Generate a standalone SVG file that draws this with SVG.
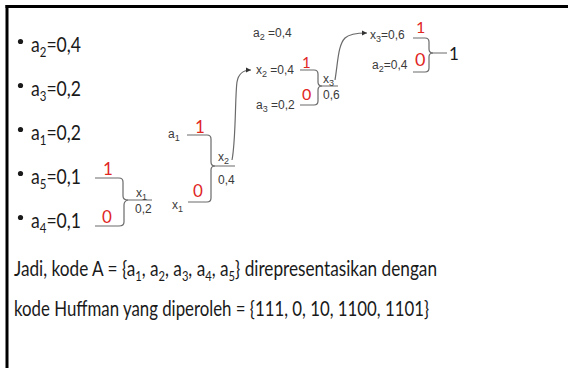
<svg xmlns="http://www.w3.org/2000/svg" width="568" height="368" viewBox="0 0 568 368">
<style>
.main{font-family:Lato,"Open Sans",sans-serif;font-size:22px;fill:#1a1a1a}
.lbl{font-family:"Liberation Sans",Arial,sans-serif;font-size:12px;fill:#3a3a3a}
.lbl .sub{font-size:9px}
.red{font-family:Lato,"Liberation Sans",sans-serif;fill:#e0261f}
.ln{fill:none;stroke:#6a6a6a;stroke-width:1.2}
.sub{font-size:0.65em}
.dot{fill:#1a1a1a}
</style>
<defs>
<marker id="ah" markerWidth="6" markerHeight="6" refX="5" refY="3" orient="auto" markerUnits="userSpaceOnUse">
<path d="M0,0.5 L5,3 L0,5.5 Z" fill="#333"/>
</marker>
</defs>
<rect width="568" height="368" fill="#fff"/>
<g id="frame" stroke="#000" stroke-width="3">
<line x1="5.5" y1="6.5" x2="568" y2="6.5"/>
<line x1="7" y1="5" x2="7" y2="368"/>
</g>
<g id="bullets" class="main">
<circle class="dot" cx="20.5" cy="41.5" r="2.6"/>
<text x="31" y="52" textLength="50" lengthAdjust="spacingAndGlyphs">a<tspan class="sub" dy="5">2</tspan><tspan dy="-5">=0,4</tspan></text>
<circle class="dot" cx="20.5" cy="85.5" r="2.6"/>
<text x="31" y="96" textLength="50" lengthAdjust="spacingAndGlyphs">a<tspan class="sub" dy="5">3</tspan><tspan dy="-5">=0,2</tspan></text>
<circle class="dot" cx="20.5" cy="129.5" r="2.6"/>
<text x="31" y="140" textLength="50" lengthAdjust="spacingAndGlyphs">a<tspan class="sub" dy="5">1</tspan><tspan dy="-5">=0,2</tspan></text>
<circle class="dot" cx="20.5" cy="173.5" r="2.6"/>
<text x="31" y="184" textLength="50" lengthAdjust="spacingAndGlyphs">a<tspan class="sub" dy="5">5</tspan><tspan dy="-5">=0,1</tspan></text>
<circle class="dot" cx="20.5" cy="217.5" r="2.6"/>
<text x="31" y="228" textLength="50" lengthAdjust="spacingAndGlyphs">a<tspan class="sub" dy="5">4</tspan><tspan dy="-5">=0,1</tspan></text>
</g>
<g id="connectors">
<path class="ln" d="M95,178 H119 Q123,178 123,182 V196 Q123,200 128,200 H152"/>
<path class="ln" d="M95,226 H119 Q124,226 124,222 V205 Q124,201 128,200"/>
<path class="ln" d="M187,135 H207 Q211,135 211,139 V162 Q211,166 215,166 H235"/>
<path class="ln" d="M188,202 H207 Q211,202 211,198 V170 Q211,166 215,166"/>
<path class="ln" d="M300,70 H314 Q318,70 318,74 V82 Q318,86 322,86 H338"/>
<path class="ln" d="M300,105 H314 Q318,105 318,101 V90 Q318,86 322,86"/>
<path class="ln" d="M413,38 H425 Q429,38 429,42 V49 Q429,53 433,53 H447"/>
<path class="ln" d="M413,72 H425 Q429,72 429,68 V57 Q429,53 433,53"/>
<path class="ln" d="M232,160 C236,140 235,95 237,82 Q239,70 251,70" marker-end="url(#ah)"/>
<path class="ln" d="M335,80 C338,62 338,45 345,38 Q350,33 367,33" marker-end="url(#ah)"/>
</g>
<g id="tree1">
<text class="red" x="103" y="175" font-size="17">1</text>
<text class="red" x="102" y="223" font-size="17">0</text>
<text class="lbl" x="136" y="197">x<tspan class="sub" dy="3">1</tspan></text>
<text class="lbl" x="135" y="213">0,2</text>
</g>
<g id="tree2">
<text class="lbl" x="168" y="138">a<tspan class="sub" dy="3">1</tspan></text>
<text class="lbl" x="172" y="209">x<tspan class="sub" dy="3">1</tspan></text>
<text class="red" x="195" y="133" font-size="17">1</text>
<text class="red" x="193" y="197" font-size="17">0</text>
<text class="lbl" x="218" y="161">x<tspan class="sub" dy="3">2</tspan></text>
<text class="lbl" x="218" y="184">0,4</text>
</g>
<g id="tree3">
<text class="lbl" x="253" y="37">a<tspan class="sub" dy="3">2</tspan><tspan dy="-3"> =0,4</tspan></text>
<text class="lbl" x="256" y="74">x<tspan class="sub" dy="3">2</tspan><tspan dy="-3"> =0,4</tspan></text>
<text class="lbl" x="256" y="109">a<tspan class="sub" dy="3">3</tspan><tspan dy="-3"> =0,2</tspan></text>
<text class="red" x="302" y="68" font-size="15">1</text>
<text class="red" x="302" y="100" font-size="16">0</text>
<text class="lbl" x="323" y="83">x<tspan class="sub" dy="3">3</tspan></text>
<text class="lbl" x="323" y="99">0,6</text>
</g>
<g id="tree4">
<text class="lbl" x="370" y="39">x<tspan class="sub" dy="3">3</tspan><tspan dy="-3">=0,6</tspan></text>
<text class="lbl" x="372" y="69">a<tspan class="sub" dy="3">2</tspan><tspan dy="-3">=0,4</tspan></text>
<text class="red" x="416" y="33" font-size="16">1</text>
<text class="red" x="415" y="66" font-size="18">0</text>
<text class="main" x="449" y="60" style="font-size:17px">1</text>
</g>
<g id="summary" class="main">
<text x="14" y="276" textLength="423" lengthAdjust="spacingAndGlyphs">Jadi, kode A = {a<tspan class="sub" dy="5">1</tspan><tspan dy="-5">, a</tspan><tspan class="sub" dy="5">2</tspan><tspan dy="-5">, a</tspan><tspan class="sub" dy="5">3</tspan><tspan dy="-5">, a</tspan><tspan class="sub" dy="5">4</tspan><tspan dy="-5">, a</tspan><tspan class="sub" dy="5">5</tspan><tspan dy="-5">} direpresentasikan dengan</tspan></text>
<text x="14" y="316" textLength="415" lengthAdjust="spacingAndGlyphs">kode Huffman yang diperoleh = {111, 0, 10, 1100, 1101}</text>
</g>
</svg>
